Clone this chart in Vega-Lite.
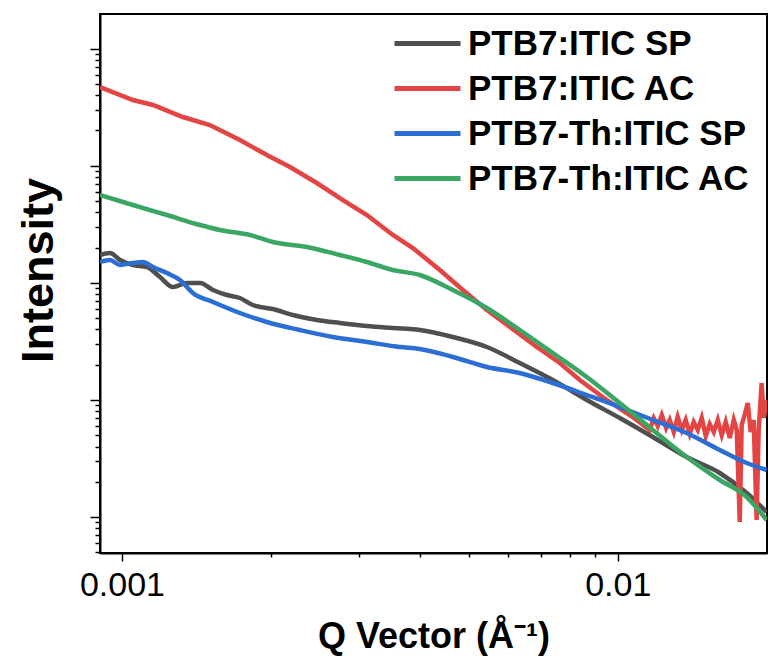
{
  "$schema": "https://vega.github.io/schema/vega-lite/v6.json",
  "width": 667,
  "height": 539,
  "autosize": {"type": "none"},
  "padding": {"left": 100, "top": 14, "right": 1, "bottom": 107},
  "background": "white",
  "config": {
    "view": {"stroke": "black", "strokeWidth": 2},
    "axis": {"labelFont": "Liberation Sans", "titleFont": "Liberation Sans", "labelColor": "black", "titleColor": "black", "domainColor": "black", "domainWidth": 2, "tickColor": "black", "tickWidth": 1.5, "grid": false}
  },
  "data": {"values": [
    {"s": "PTB7:ITIC SP", "q": 0.000903, "I": 172.8},
    {"s": "PTB7:ITIC SP", "q": 0.000946, "I": 179.7},
    {"s": "PTB7:ITIC SP", "q": 0.000991, "I": 156.5},
    {"s": "PTB7:ITIC SP", "q": 0.001052, "I": 141.9},
    {"s": "PTB7:ITIC SP", "q": 0.001123, "I": 136.4},
    {"s": "PTB7:ITIC SP", "q": 0.001193, "I": 112.1},
    {"s": "PTB7:ITIC SP", "q": 0.001267, "I": 92.08},
    {"s": "PTB7:ITIC SP", "q": 0.001352, "I": 99.61},
    {"s": "PTB7:ITIC SP", "q": 0.001437, "I": 99.61},
    {"s": "PTB7:ITIC SP", "q": 0.001526, "I": 86.8},
    {"s": "PTB7:ITIC SP", "q": 0.001628, "I": 78.66},
    {"s": "PTB7:ITIC SP", "q": 0.001729, "I": 74.17},
    {"s": "PTB7:ITIC SP", "q": 0.001837, "I": 64.63},
    {"s": "PTB7:ITIC SP", "q": 0.002016, "I": 59.73},
    {"s": "PTB7:ITIC SP", "q": 0.002212, "I": 53.09},
    {"s": "PTB7:ITIC SP", "q": 0.002472, "I": 48.12},
    {"s": "PTB7:ITIC SP", "q": 0.002751, "I": 45.37},
    {"s": "PTB7:ITIC SP", "q": 0.003119, "I": 42.77},
    {"s": "PTB7:ITIC SP", "q": 0.003519, "I": 41.11},
    {"s": "PTB7:ITIC SP", "q": 0.003989, "I": 39.53},
    {"s": "PTB7:ITIC SP", "q": 0.004649, "I": 34.44},
    {"s": "PTB7:ITIC SP", "q": 0.005444, "I": 28.3},
    {"s": "PTB7:ITIC SP", "q": 0.006345, "I": 20.66},
    {"s": "PTB7:ITIC SP", "q": 0.007396, "I": 14.79},
    {"s": "PTB7:ITIC SP", "q": 0.00866, "I": 9.98},
    {"s": "PTB7:ITIC SP", "q": 0.010093, "I": 7.005},
    {"s": "PTB7:ITIC SP", "q": 0.01177, "I": 4.822},
    {"s": "PTB7:ITIC SP", "q": 0.01377, "I": 3.254},
    {"s": "PTB7:ITIC SP", "q": 0.01606, "I": 2.375},
    {"s": "PTB7:ITIC SP", "q": 0.0182, "I": 1.603},
    {"s": "PTB7:ITIC SP", "q": 0.01997, "I": 1.103},

    {"s": "PTB7:ITIC AC", "q": 0.000903, "I": 4700},
    {"s": "PTB7:ITIC AC", "q": 0.001052, "I": 3640},
    {"s": "PTB7:ITIC AC", "q": 0.001155, "I": 3299},
    {"s": "PTB7:ITIC AC", "q": 0.001327, "I": 2606},
    {"s": "PTB7:ITIC AC", "q": 0.001504, "I": 2226},
    {"s": "PTB7:ITIC AC", "q": 0.001729, "I": 1658},
    {"s": "PTB7:ITIC AC", "q": 0.00196, "I": 1234},
    {"s": "PTB7:ITIC AC", "q": 0.002182, "I": 974.7},
    {"s": "PTB7:ITIC AC", "q": 0.002472, "I": 711.6},
    {"s": "PTB7:ITIC AC", "q": 0.00279, "I": 509.4},
    {"s": "PTB7:ITIC AC", "q": 0.003119, "I": 379.3},
    {"s": "PTB7:ITIC AC", "q": 0.003519, "I": 256},
    {"s": "PTB7:ITIC AC", "q": 0.003861, "I": 198.3},
    {"s": "PTB7:ITIC AC", "q": 0.004377, "I": 128.6},
    {"s": "PTB7:ITIC AC", "q": 0.00487, "I": 86.8},
    {"s": "PTB7:ITIC AC", "q": 0.005444, "I": 58.57},
    {"s": "PTB7:ITIC AC", "q": 0.006058, "I": 41.94},
    {"s": "PTB7:ITIC AC", "q": 0.006866, "I": 28.3},
    {"s": "PTB7:ITIC AC", "q": 0.00764, "I": 20.66},
    {"s": "PTB7:ITIC AC", "q": 0.008383, "I": 14.79},
    {"s": "PTB7:ITIC AC", "q": 0.009502, "I": 9.98},
    {"s": "PTB7:ITIC AC", "q": 0.01072, "I": 7.145},
    {"s": "PTB7:ITIC AC", "q": 0.0116, "I": 5.534},
    {"s": "PTB7:ITIC AC", "q": 0.01182, "I": 7.005},
    {"s": "PTB7:ITIC AC", "q": 0.01204, "I": 5.986},
    {"s": "PTB7:ITIC AC", "q": 0.01227, "I": 7.432},
    {"s": "PTB7:ITIC AC", "q": 0.01252, "I": 5.754},
    {"s": "PTB7:ITIC AC", "q": 0.01273, "I": 6.737},
    {"s": "PTB7:ITIC AC", "q": 0.01297, "I": 5.32},
    {"s": "PTB7:ITIC AC", "q": 0.01321, "I": 7.145},
    {"s": "PTB7:ITIC AC", "q": 0.01346, "I": 5.534},
    {"s": "PTB7:ITIC AC", "q": 0.01371, "I": 6.737},
    {"s": "PTB7:ITIC AC", "q": 0.01397, "I": 5.114},
    {"s": "PTB7:ITIC AC", "q": 0.01423, "I": 6.476},
    {"s": "PTB7:ITIC AC", "q": 0.0145, "I": 5.534},
    {"s": "PTB7:ITIC AC", "q": 0.01477, "I": 7.005},
    {"s": "PTB7:ITIC AC", "q": 0.01505, "I": 4.917},
    {"s": "PTB7:ITIC AC", "q": 0.01533, "I": 6.226},
    {"s": "PTB7:ITIC AC", "q": 0.01562, "I": 5.32},
    {"s": "PTB7:ITIC AC", "q": 0.01591, "I": 6.737},
    {"s": "PTB7:ITIC AC", "q": 0.01621, "I": 5.015},
    {"s": "PTB7:ITIC AC", "q": 0.01651, "I": 6.476},
    {"s": "PTB7:ITIC AC", "q": 0.01682, "I": 4.727},
    {"s": "PTB7:ITIC AC", "q": 0.01714, "I": 6.737},
    {"s": "PTB7:ITIC AC", "q": 0.01738, "I": 5.534},
    {"s": "PTB7:ITIC AC", "q": 0.01762, "I": 0.9064},
    {"s": "PTB7:ITIC AC", "q": 0.01778, "I": 6.105},
    {"s": "PTB7:ITIC AC", "q": 0.01803, "I": 7.432},
    {"s": "PTB7:ITIC AC", "q": 0.01829, "I": 9.409},
    {"s": "PTB7:ITIC AC", "q": 0.01854, "I": 5.32},
    {"s": "PTB7:ITIC AC", "q": 0.0188, "I": 6.737},
    {"s": "PTB7:ITIC AC", "q": 0.01906, "I": 0.9428},
    {"s": "PTB7:ITIC AC", "q": 0.01924, "I": 5.534},
    {"s": "PTB7:ITIC AC", "q": 0.01951, "I": 13.94},
    {"s": "PTB7:ITIC AC", "q": 0.0197, "I": 7.005},
    {"s": "PTB7:ITIC AC", "q": 0.01997, "I": 9.98},

    {"s": "PTB7-Th:ITIC SP", "q": 0.000903, "I": 150.5},
    {"s": "PTB7-Th:ITIC SP", "q": 0.000946, "I": 156.5},
    {"s": "PTB7-Th:ITIC SP", "q": 0.000991, "I": 141.9},
    {"s": "PTB7-Th:ITIC SP", "q": 0.001052, "I": 147.6},
    {"s": "PTB7-Th:ITIC SP", "q": 0.001102, "I": 150.5},
    {"s": "PTB7-Th:ITIC SP", "q": 0.001155, "I": 136.4},
    {"s": "PTB7-Th:ITIC SP", "q": 0.001232, "I": 121.3},
    {"s": "PTB7-Th:ITIC SP", "q": 0.001309, "I": 105.7},
    {"s": "PTB7-Th:ITIC SP", "q": 0.00139, "I": 81.83},
    {"s": "PTB7-Th:ITIC SP", "q": 0.001526, "I": 68.55},
    {"s": "PTB7-Th:ITIC SP", "q": 0.001729, "I": 55.22},
    {"s": "PTB7-Th:ITIC SP", "q": 0.00196, "I": 46.26},
    {"s": "PTB7-Th:ITIC SP", "q": 0.002285, "I": 39.53},
    {"s": "PTB7-Th:ITIC SP", "q": 0.002664, "I": 34.44},
    {"s": "PTB7-Th:ITIC SP", "q": 0.003119, "I": 31.22},
    {"s": "PTB7-Th:ITIC SP", "q": 0.003635, "I": 28.3},
    {"s": "PTB7-Th:ITIC SP", "q": 0.003989, "I": 27.21},
    {"s": "PTB7-Th:ITIC SP", "q": 0.004649, "I": 23.25},
    {"s": "PTB7-Th:ITIC SP", "q": 0.005444, "I": 19.1},
    {"s": "PTB7-Th:ITIC SP", "q": 0.006345, "I": 16.97},
    {"s": "PTB7-Th:ITIC SP", "q": 0.007396, "I": 13.94},
    {"s": "PTB7-Th:ITIC SP", "q": 0.00866, "I": 11.01},
    {"s": "PTB7-Th:ITIC SP", "q": 0.010093, "I": 8.697},
    {"s": "PTB7-Th:ITIC SP", "q": 0.01177, "I": 6.737},
    {"s": "PTB7-Th:ITIC SP", "q": 0.01377, "I": 5.216},
    {"s": "PTB7-Th:ITIC SP", "q": 0.01606, "I": 3.734},
    {"s": "PTB7-Th:ITIC SP", "q": 0.0182, "I": 2.892},
    {"s": "PTB7-Th:ITIC SP", "q": 0.01997, "I": 2.52},

    {"s": "PTB7-Th:ITIC AC", "q": 0.000903, "I": 562.1},
    {"s": "PTB7-Th:ITIC AC", "q": 0.001052, "I": 461.7},
    {"s": "PTB7-Th:ITIC AC", "q": 0.001232, "I": 379.3},
    {"s": "PTB7-Th:ITIC AC", "q": 0.001437, "I": 311.6},
    {"s": "PTB7-Th:ITIC AC", "q": 0.001576, "I": 282.4},
    {"s": "PTB7-Th:ITIC AC", "q": 0.001812, "I": 256},
    {"s": "PTB7-Th:ITIC AC", "q": 0.002016, "I": 223.1},
    {"s": "PTB7-Th:ITIC AC", "q": 0.00236, "I": 202.2},
    {"s": "PTB7-Th:ITIC AC", "q": 0.002751, "I": 172.8},
    {"s": "PTB7-Th:ITIC AC", "q": 0.003119, "I": 150.5},
    {"s": "PTB7-Th:ITIC AC", "q": 0.003519, "I": 128.6},
    {"s": "PTB7-Th:ITIC AC", "q": 0.003989, "I": 116.6},
    {"s": "PTB7-Th:ITIC AC", "q": 0.004649, "I": 86.8},
    {"s": "PTB7-Th:ITIC AC", "q": 0.005444, "I": 60.92},
    {"s": "PTB7-Th:ITIC AC", "q": 0.006345, "I": 39.53},
    {"s": "PTB7-Th:ITIC AC", "q": 0.007396, "I": 25.15},
    {"s": "PTB7-Th:ITIC AC", "q": 0.00866, "I": 15.69},
    {"s": "PTB7-Th:ITIC AC", "q": 0.010093, "I": 9.409},
    {"s": "PTB7-Th:ITIC AC", "q": 0.01177, "I": 5.534},
    {"s": "PTB7-Th:ITIC AC", "q": 0.01377, "I": 3.254},
    {"s": "PTB7-Th:ITIC AC", "q": 0.01606, "I": 2.07},
    {"s": "PTB7-Th:ITIC AC", "q": 0.0182, "I": 1.482},
    {"s": "PTB7-Th:ITIC AC", "q": 0.01997, "I": 0.9428}
  ]},
  "encoding": {
    "x": {
      "field": "q", "type": "quantitative",
      "scale": {"type": "log", "domain": [0.000903, 0.02], "nice": false},
      "axis": {
        "values": [0.001, 0.002, 0.003, 0.004, 0.005, 0.006, 0.007, 0.008, 0.009, 0.01],
        "title": "Q Vector (Å⁻¹)",
        "labelExpr": "datum.value == 0.001 ? '0.001' : (datum.value == 0.01 ? '0.01' : '')",
        "tickSize": {"condition": {"test": "datum.value == 0.001 || datum.value == 0.01", "value": 8}, "value": 4},
        "labelFontSize": 34,
        "labelBaseline": "alphabetic",
        "labelPadding": 34,
        "labelFlush": false,
        "labelOverlap": false,
        "titleFontSize": 36,
        "titleFontWeight": "bold",
        "titleX": 333.5,
        "titleY": 94,
        "titleBaseline": "alphabetic",
        "titleAlign": "center"
      }
    },
    "y": {
      "field": "I", "type": "quantitative",
      "scale": {"type": "log", "domain": [0.4927, 19750], "nice": false},
      "axis": {
        "values": [0.5, 0.6, 0.7, 0.8, 0.9, 1, 2, 3, 4, 5, 6, 7, 8, 9, 10, 20, 30, 40, 50, 60, 70, 80, 90, 100, 200, 300, 400, 500, 600, 700, 800, 900, 1000, 2000, 3000, 4000, 5000, 6000, 7000, 8000, 9000, 10000],
        "labels": false,
        "tickSize": {"condition": {"test": "datum.value == 1 || datum.value == 10 || datum.value == 100 || datum.value == 1000 || datum.value == 10000", "value": 10}, "value": 5},
        "title": "Intensity",
        "titleFontSize": 45,
        "titleFontWeight": "bold",
        "titleAngle": 270,
        "titleX": -48,
        "titleY": 256,
        "titleAlign": "center",
        "titleBaseline": "alphabetic"
      }
    },
    "color": {
      "field": "s", "type": "nominal",
      "scale": {
        "domain": ["PTB7:ITIC SP", "PTB7:ITIC AC", "PTB7-Th:ITIC SP", "PTB7-Th:ITIC AC"],
        "range": ["#4f4f4f", "#e34444", "#2c6fd4", "#3ba564"]
      },
      "legend": {
        "title": null,
        "orient": "none",
        "legendX": 292,
        "legendY": 7,
        "symbolType": "stroke",
        "symbolSize": 4356,
        "symbolStrokeWidth": 5,
        "labelFont": "Liberation Sans",
        "labelFontSize": 35,
        "labelFontWeight": "bold",
        "labelColor": "black",
        "labelOffset": 5,
        "labelLimit": 400,
        "rowPadding": 0,
        "clipHeight": 45,
        "padding": 0
      }
    }
  },
  "layer": [
    {"transform": [{"filter": "datum.s == 'PTB7:ITIC SP'"}], "mark": {"type": "line", "strokeWidth": 4.5, "interpolate": "monotone", "clip": true}},
    {"transform": [{"filter": "datum.s == 'PTB7:ITIC AC'"}], "mark": {"type": "line", "strokeWidth": 4.5, "interpolate": "linear", "clip": true}},
    {"transform": [{"filter": "datum.s == 'PTB7-Th:ITIC SP'"}], "mark": {"type": "line", "strokeWidth": 4.5, "interpolate": "monotone", "clip": true}},
    {"transform": [{"filter": "datum.s == 'PTB7-Th:ITIC AC'"}], "mark": {"type": "line", "strokeWidth": 4.5, "interpolate": "monotone", "clip": true}}
  ]
}
